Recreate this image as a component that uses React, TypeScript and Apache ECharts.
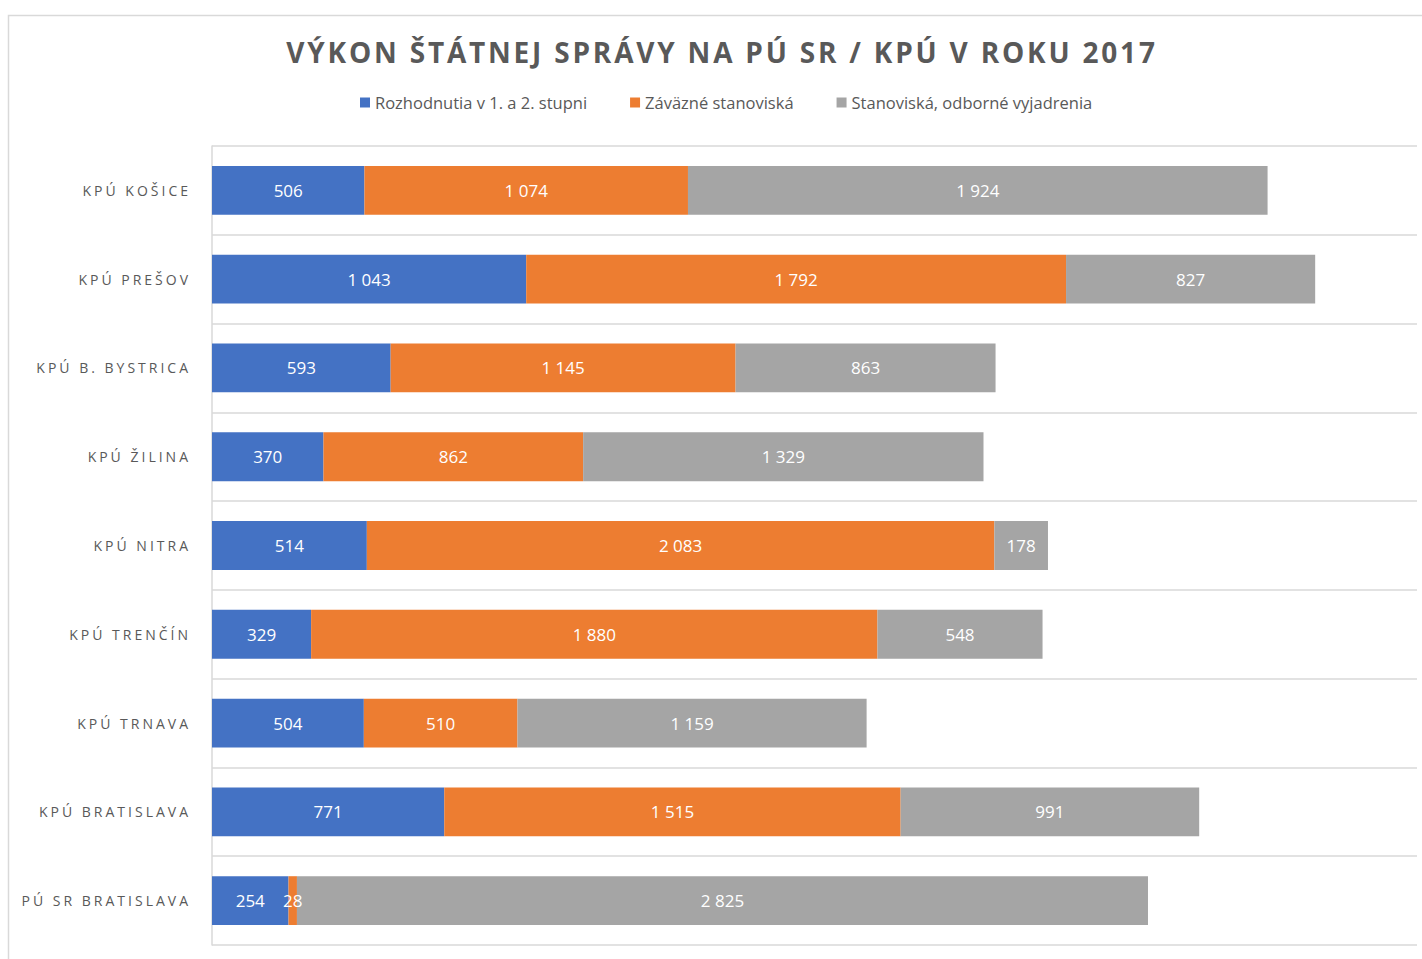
import React, { useEffect, useRef } from "react";
import * as echarts from "echarts";

const categories = [
  "KPÚ KOŠICE",
  "KPÚ PREŠOV",
  "KPÚ B. BYSTRICA",
  "KPÚ ŽILINA",
  "KPÚ NITRA",
  "KPÚ TRENČÍN",
  "KPÚ TRNAVA",
  "KPÚ BRATISLAVA",
  "PÚ SR BRATISLAVA",
];
const rozhodnutia = [506, 1043, 593, 370, 514, 329, 504, 771, 254];
const zavazne = [1074, 1792, 1145, 862, 2083, 1880, 510, 1515, 28];
const stanoviska = [1924, 827, 863, 1329, 178, 548, 1159, 991, 2825];
const seriesNames = [
  "Rozhodnutia v 1. a 2. stupni",
  "Záväzné stanoviská",
  "Stanoviská, odborné vyjadrenia",
];
const titleText = "VÝKON ŠTÁTNEJ SPRÁVY NA PÚ SR / KPÚ V ROKU 2017";

const colors = ["#4472C4", "#ED7D31", "#A5A5A5"];
const FONT = "'Open Sans', sans-serif";

const fmt = (v: number) => String(v).replace(/\B(?=(\d{3})+(?!\d))/g, " ");

export default function App() {
  const ref = useRef<HTMLDivElement>(null);
  useEffect(() => {
    if (!ref.current) return;
    const chart = echarts.init(ref.current, null, { renderer: "svg" });
    const mk = (name: string, data: number[], i: number) => ({
      name,
      type: "bar",
      stack: "total",
      data,
      barCategoryGap: "45%",
      itemStyle: { color: colors[i] },
      label: {
        show: true,
        position: "inside",
        color: "#ffffff",
        fontSize: 17,
        fontFamily: FONT,
        formatter: (p: any) => fmt(p.value),
      },
      silent: true,
    });
    chart.setOption({
      animation: false,
      textStyle: { fontFamily: FONT },
      graphic: [
        {
          type: "rect",
          shape: { x: 8.5, y: 15.5, width: 1600, height: 1200 },
          style: { fill: "none", stroke: "#d9d9d9", lineWidth: 1.5 },
          silent: true,
        },
        {
          type: "text",
          x: 722,
          y: 52,
          style: {
            text: titleText,
            fill: "#595959",
            font: `bold 28px ${FONT}`,
            align: "center",
            verticalAlign: "middle",
            textAlign: "center",
            textVerticalAlign: "middle",
          },
          silent: true,
        },
      ],
      legend: {
        top: 94,
        left: 360,
        padding: 0,
        icon: "rect",
        itemWidth: 10,
        itemHeight: 10,
        itemGap: 43,
        textStyle: { color: "#595959", fontSize: 16.5, fontFamily: FONT },
        data: seriesNames,
      },
      grid: { left: 212, right: 5, top: 146, bottom: 14, containLabel: false },
      xAxis: { type: "value", min: 0, max: 4000, show: false },
      yAxis: {
        type: "category",
        inverse: true,
        data: categories,
        axisLine: { show: true, lineStyle: { color: "#d9d9d9", width: 1.5 } },
        axisTick: { show: false },
        splitLine: { show: true, lineStyle: { color: "#d9d9d9", width: 1.5 } },
        axisLabel: { color: "#595959", fontSize: 14, fontFamily: FONT, margin: 21 },
      },
      series: [
        mk(seriesNames[0], rozhodnutia, 0),
        mk(seriesNames[1], zavazne, 1),
        mk(seriesNames[2], stanoviska, 2),
      ],
    });
    const texts = ref.current.querySelectorAll("text");
    texts.forEach((t) => {
      const c = t.textContent || "";
      if (categories.includes(c)) (t as any).style.letterSpacing = "3px";
      if (c === titleText) (t as any).style.letterSpacing = "2.8px";
    });
    return () => chart.dispose();
  }, []);
  return (
    <div
      ref={ref}
      style={{ position: "absolute", left: 0, top: 0, width: 1422, height: 959, background: "#fff" }}
    />
  );
}
